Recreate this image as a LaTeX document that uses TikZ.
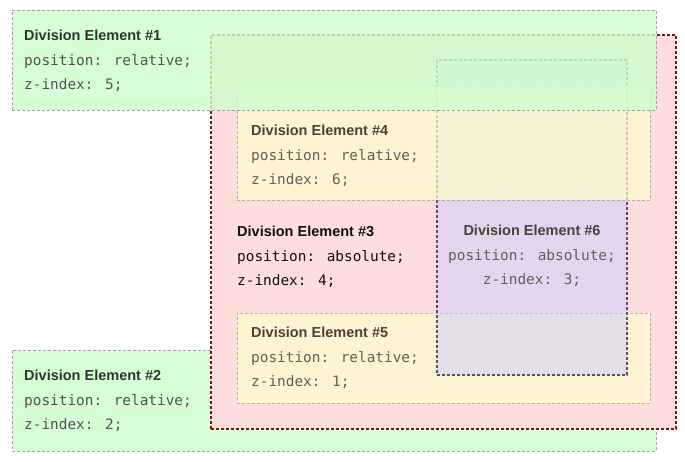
\documentclass[tikz,border=0pt]{standalone}
\usepackage{fontspec}
\setmainfont{Liberation Sans}
\newfontfamily\monof{DejaVu Sans Mono}
\definecolor{greenfill}{HTML}{CCFFCC}
\definecolor{pinkfill}{HTML}{FFDDDD}
\definecolor{yellowfill}{HTML}{FFFFCC}
\definecolor{purplefill}{HTML}{CCCCFF}
\definecolor{grayline}{HTML}{999999}
\definecolor{redline}{HTML}{6E1A1A}
\definecolor{purpleline}{HTML}{4D3D66}
\definecolor{txtgreen}{HTML}{333333}
\definecolor{txtsoft}{HTML}{48433C}
\definecolor{txtdark}{HTML}{111111}
\tikzset{
  divbox/.style={rectangle, inner sep=0pt, outer sep=0pt, anchor=north west,
    line width=1pt, dash pattern=on 3pt off 2pt},
  greenbox/.style={divbox, fill=greenfill, fill opacity=0.8, draw=grayline, draw opacity=0.9},
  pinkbox/.style={divbox, fill=pinkfill, draw=redline, line width=1.2pt},
  yellowbox/.style={divbox, fill=yellowfill, fill opacity=0.7, draw=grayline, draw opacity=0.7},
  purplebox/.style={divbox, fill=purplefill, fill opacity=0.5, draw=purpleline, draw opacity=0.9, line width=1.2pt},
  titletext/.style={inner sep=0pt, anchor=base west, font=\fontsize{14.5}{17}\selectfont\bfseries},
  monotext/.style={inner sep=0pt, anchor=base west, font=\fontsize{14.4}{17}\selectfont\monof},
}
\begin{document}
\begin{tikzpicture}[x=1pt,y=-1pt]
\useasboundingbox (0,0) rectangle (685,461);
\fill[white] (0,0) rectangle (685,461);

% Division Element #2 (z-index 2)
\node[greenbox, minimum width=644pt, minimum height=101pt] (d2) at (12,350) {};
\node[titletext, text=txtgreen] (d2t) at (24,380.5) {Division Element \#2};
\node[monotext, text=txtgreen!85] (d2p) at (24,405) {position: relative;};
\node[monotext, text=txtgreen!85] (d2z) at (24,429.5) {z-index: 2;};

% Division Element #3 (z-index 4)
\node[pinkbox, minimum width=465pt, minimum height=394pt] (d3) at (211,35) {};
\node[titletext, text=txtdark] (d3t) at (237,236) {Division Element \#3};
\node[monotext, text=txtdark] (d3p) at (237,261) {position: absolute;};
\node[monotext, text=txtdark] (d3z) at (237,285.5) {z-index: 4;};

% Division Element #5 (z-index 1)
\node[yellowbox, minimum width=413pt, minimum height=90pt] (d5) at (237,313) {};
\node[titletext, text=txtsoft] (d5t) at (251,337.5) {Division Element \#5};
\node[monotext, text=txtsoft!85] (d5p) at (251,362) {position: relative;};
\node[monotext, text=txtsoft!85] (d5z) at (251,386.5) {z-index: 1;};

% Division Element #6 (z-index 3)
\node[purplebox, minimum width=190pt, minimum height=315pt] (d6) at (437,60) {};
\node[titletext, anchor=base, text=txtsoft] (d6t) at (532,235.5) {Division Element \#6};
\node[monotext, anchor=base, text=txtsoft!85] (d6p) at (532,260) {position: absolute;};
\node[monotext, anchor=base, text=txtsoft!85] (d6z) at (532,284.5) {z-index: 3;};

% Division Element #4 (z-index 6)
\node[yellowbox, minimum width=413pt, minimum height=114pt] (d4) at (237,86) {};
\node[titletext, text=txtsoft] (d4t) at (251,135.5) {Division Element \#4};
\node[monotext, text=txtsoft!85] (d4p) at (251,160) {position: relative;};
\node[monotext, text=txtsoft!85] (d4z) at (251,184.5) {z-index: 6;};

% Division Element #1 (z-index 5)
\node[greenbox, minimum width=644pt, minimum height=100pt] (d1) at (12,10) {};
\node[titletext, text=txtgreen] (d1t) at (24,40.5) {Division Element \#1};
\node[monotext, text=txtgreen!85] (d1p) at (24,65) {position: relative;};
\node[monotext, text=txtgreen!85] (d1z) at (24,89.5) {z-index: 5;};
\end{tikzpicture}
\end{document}
